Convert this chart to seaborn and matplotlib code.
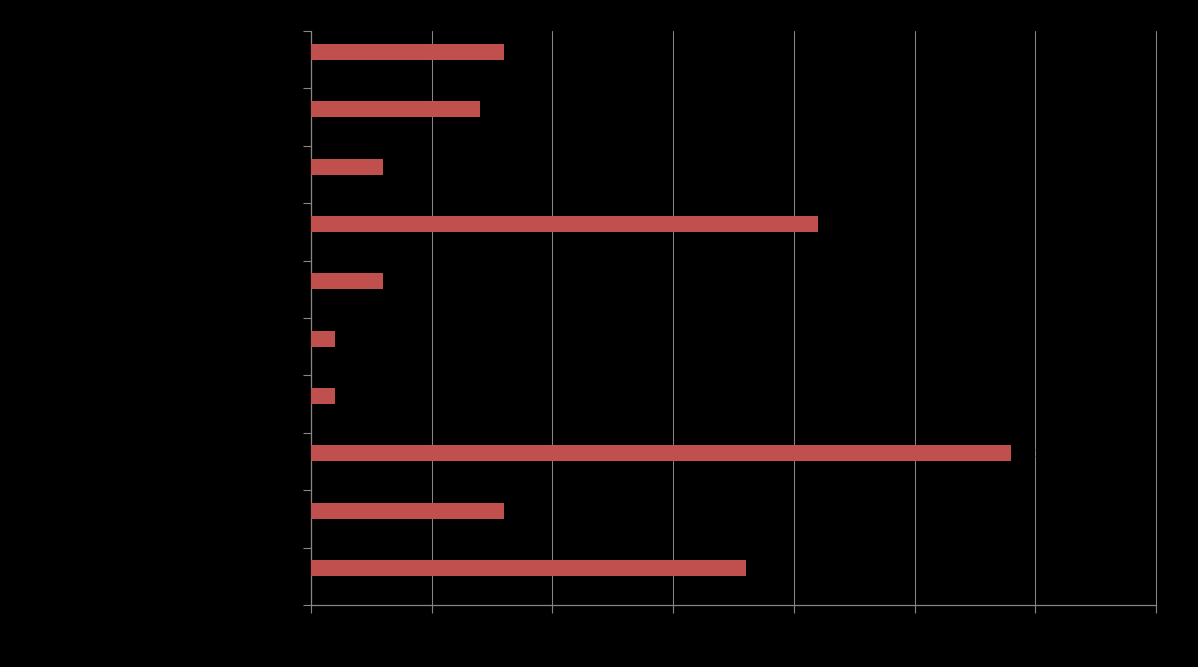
import matplotlib

matplotlib.use("Agg")
import matplotlib.pyplot as plt
import numpy as np
import pandas as pd
import seaborn as sns

# categories top to bottom; labels are drawn in black on black in the original
categories = ["Category 1", "Category 2", "Category 3", "Category 4", "Category 5",
              "Category 6", "Category 7", "Category 8", "Category 9", "Category 10"]
values = [8, 7, 3, 21, 3, 1, 1, 29, 8, 18]
series = ["Series 1", "Series 2"]  # second series slot is empty in the original
x_ticks = [0, 5, 10, 15, 20, 25, 30, 35]

df = pd.DataFrame({"category": categories, "value": values, "series": series[0]})

sns.set_style("dark")
bar_color = "#C0504D"
line_color = "#868686"

fig = plt.figure(figsize=(11.98, 6.67), dpi=100, facecolor="black")
ax = fig.add_axes([0.2596, 0.093, 0.7054, 0.8605])
ax.set_facecolor("black")

sns.barplot(data=df, x="value", y="category", hue="series", hue_order=series,
            palette=[bar_color, bar_color], width=0.557, dodge=True,
            saturation=1, linewidth=0, legend=False, ax=ax, zorder=3)

ax.set_xlim(0, 35)
ax.set_xticks(x_ticks)
ax.set_xticklabels([str(t) for t in x_ticks], color="black")
ax.set_ylim(len(categories) - 0.5, -0.5)

# ticks between categories, labels at the centres
ax.set_yticks(np.arange(len(categories) + 1) - 0.5)
ax.set_yticklabels([])
ax.set_yticks(np.arange(len(categories)), minor=True)
ax.set_yticklabels(categories, minor=True, color="black")
ax.tick_params(axis="y", which="minor", length=0, left=False)
ax.tick_params(axis="both", which="major", direction="out", length=6,
               width=0.8, color=line_color, left=True, bottom=True)

ax.grid(axis="x", color=line_color, linewidth=0.75, zorder=0)
ax.grid(axis="y", visible=False)
for gl in ax.get_xgridlines():
    gl.set_clip_on(False)
for side in ["top", "right"]:
    ax.spines[side].set_visible(False)
for side in ["left", "bottom"]:
    ax.spines[side].set_visible(True)
    ax.spines[side].set_color(line_color)
    ax.spines[side].set_linewidth(0.9)

for bar, v in zip(ax.patches, values):
    yc = bar.get_y() + bar.get_height() / 2
    ax.annotate(str(v), (v, yc), xytext=(12, 0), textcoords="offset points",
                va="center", ha="left", color="black", fontsize=10, zorder=4)

ax.set_xlabel("")
ax.set_ylabel("")

plt.savefig("out.png", dpi=100, facecolor="black")
